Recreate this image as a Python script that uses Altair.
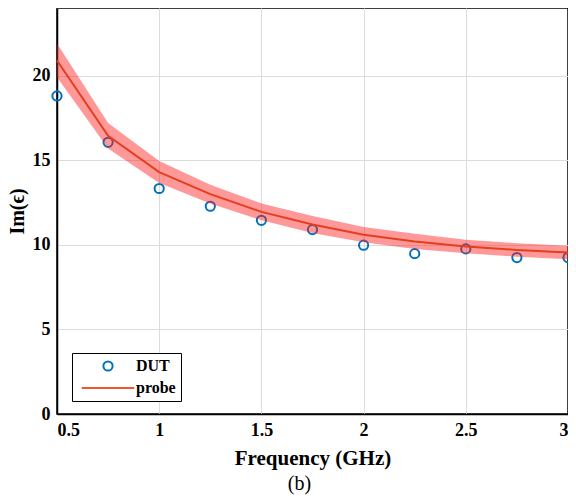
import altair as alt
import pandas as pd

# ---- data ----
freq = [0.5, 0.75, 1.0, 1.25, 1.5, 1.75, 2.0, 2.25, 2.5, 2.75, 3.0]
dut = [18.8, 16.06, 13.33, 12.28, 11.45, 10.9, 9.98, 9.48, 9.76, 9.25, 9.25]
probe = [20.9, 16.45, 14.3, 13.0, 11.95, 11.2, 10.6, 10.2, 9.9, 9.7, 9.55]
probe_upper = [21.9, 17.2, 14.95, 13.55, 12.45, 11.7, 11.05, 10.65, 10.3, 10.1, 9.95]
probe_lower = [19.9, 15.7, 13.65, 12.45, 11.45, 10.7, 10.15, 9.75, 9.5, 9.3, 9.15]
series = ["DUT", "probe"]
x_ticks = [0.5, 1, 1.5, 2, 2.5, 3]
y_ticks = [0, 5, 10, 15, 20]

df_dut = pd.DataFrame({"freq": freq, "val": dut, "series": ["DUT"] * len(freq)})
df_probe = pd.DataFrame({"freq": freq, "val": probe, "upper": probe_upper, "lower": probe_lower})

FONT = "Liberation Serif"
BLUE = "#0072BD"
LINE = "#E2401C"

xscale = alt.Scale(domain=[0.5, 3], nice=False, zero=False)
yscale = alt.Scale(domain=[0, 24], nice=False)

xaxis = alt.Axis(values=x_ticks, format="~g", title="Frequency (GHz)", grid=True,
                 ticks=False, labelPadding=7, titlePadding=8, titleFontSize=21)
yaxis = alt.Axis(values=y_ticks, title="Im(\u03f5)", grid=True, ticks=False,
                 labelPadding=7, titlePadding=5, titleFontSize=20)

points = alt.Chart(df_dut).mark_point(filled=False, strokeWidth=2, opacity=1).encode(
    x=alt.X("freq:Q", scale=xscale, axis=xaxis),
    y=alt.Y("val:Q", scale=yscale, axis=yaxis),
    color=alt.Color("series:N", scale=alt.Scale(domain=series, range=[BLUE, "#EE5A2A"]), title=None),
    shape=alt.Shape("series:N", scale=alt.Scale(domain=series, range=["circle", "M-5,0H5"]), title=None),
    size=alt.Size("series:N", scale=alt.Scale(domain=series, range=[85, 110]), title=None),
)

band = alt.Chart(df_probe).mark_area(color="#FF1A1A", opacity=0.45).encode(
    x=alt.X("freq:Q", scale=xscale),
    y=alt.Y("lower:Q", scale=yscale),
    y2="upper:Q",
)

line = alt.Chart(df_probe).mark_line(color=LINE, strokeWidth=2).encode(
    x=alt.X("freq:Q", scale=xscale),
    y=alt.Y("val:Q", scale=yscale),
)

chart = alt.layer(points, band, line).properties(
    width=511, height=406,
    autosize=alt.AutoSizeParams(type="none"),
    padding={"left": 49, "top": 0, "right": 0, "bottom": 84},
    title=alt.TitleParams("(b)", orient="bottom", font=FONT, fontSize=20,
                          fontWeight="normal", color="black", dx=-13, offset=6),
).configure_view(
    stroke="black", strokeWidth=1.5
).configure_axis(
    labelFont=FONT, labelFontSize=18, labelFontWeight="bold", labelColor="black",
    titleFont=FONT, titleFontWeight="bold", titleColor="black",
    gridColor="#DCDCDC", gridWidth=1, domainColor="black", domainWidth=1.5,
).configure_legend(
    orient="none", legendX=15, legendY=345, strokeColor="black", fillColor="white",
    padding=5, labelFont=FONT, labelFontSize=16, labelFontWeight="bold",
    labelColor="black", symbolStrokeWidth=2, cornerRadius=0, rowPadding=5,
    symbolOffset=23, labelOffset=20,
)

chart.save("out.html", embed_options={"renderer": "svg", "actions": False})
